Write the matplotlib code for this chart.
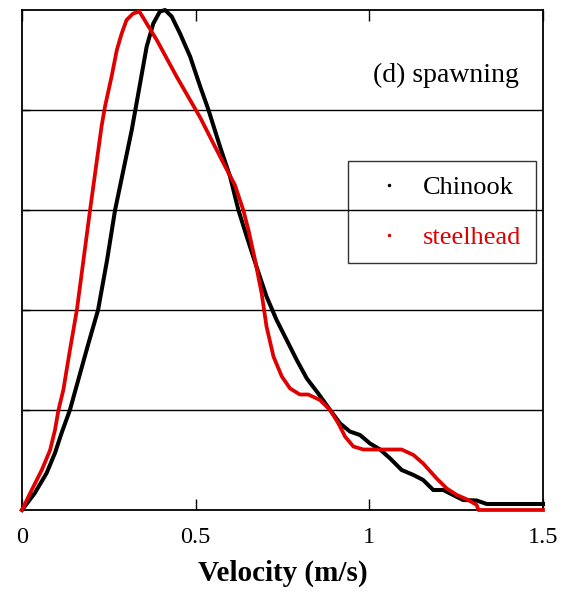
import numpy as np
import matplotlib
matplotlib.use('Agg')
import matplotlib.pyplot as plt
from matplotlib.lines import Line2D

plt.rcParams['font.family'] = ['Liberation Serif', 'DejaVu Serif']

#%% Data (velocity in m/s, relative frequency)
chinook_v = [0, 0.037, 0.071, 0.095, 0.114, 0.138, 0.162, 0.19, 0.219, 0.245,
             0.268, 0.292, 0.316, 0.34, 0.359, 0.378, 0.397, 0.412, 0.431, 0.455,
             0.484, 0.513, 0.537, 0.57, 0.599, 0.623, 0.647, 0.676, 0.704, 0.733,
             0.762, 0.791, 0.82, 0.853, 0.887, 0.916, 0.944, 0.973, 1.002, 1.031,
             1.06, 1.093, 1.127, 1.155, 1.184, 1.213, 1.241, 1.27, 1.309, 1.338,
             1.5]
chinook_f = [0, 0.034, 0.074, 0.114, 0.154, 0.2, 0.26, 0.33, 0.4, 0.5,
             0.6, 0.68, 0.76, 0.853, 0.927, 0.973, 0.997, 1.0, 0.987, 0.953,
             0.907, 0.847, 0.8, 0.727, 0.667, 0.6, 0.547, 0.485, 0.427, 0.38,
             0.34, 0.3, 0.263, 0.233, 0.2, 0.173, 0.157, 0.15, 0.133, 0.121,
             0.103, 0.08, 0.07, 0.06, 0.04, 0.04, 0.03, 0.02, 0.019, 0.012,
             0.012]

steel_v = [0, 0.028, 0.057, 0.081, 0.095, 0.105, 0.119, 0.138, 0.158, 0.177,
           0.196, 0.229, 0.239, 0.258, 0.273, 0.287, 0.301, 0.32, 0.338, 0.359,
           0.388, 0.445, 0.513, 0.551, 0.585, 0.613, 0.637, 0.652, 0.671, 0.69,
           0.704, 0.724, 0.748, 0.772, 0.8, 0.824, 0.858, 0.887, 0.911, 0.93,
           0.954, 0.983, 1.031, 1.093, 1.127, 1.155, 1.194, 1.223, 1.252, 1.285,
           1.309, 1.314, 1.5]
steel_f = [0, 0.04, 0.08, 0.12, 0.16, 0.2, 0.24, 0.32, 0.4, 0.5,
           0.6, 0.767, 0.807, 0.867, 0.92, 0.953, 0.98, 0.993, 0.997, 0.973,
           0.94, 0.867, 0.785, 0.733, 0.687, 0.65, 0.6, 0.56, 0.5, 0.433,
           0.367, 0.307, 0.267, 0.243, 0.231, 0.231, 0.22, 0.2, 0.173, 0.147,
           0.127, 0.121, 0.121, 0.121, 0.11, 0.093, 0.063, 0.043, 0.03, 0.02,
           0.01, 0, 0]

xticks = [0, 0.5, 1, 1.5]
xticklabels = ['0', '0.5', '1', '1.5']
gridlines = [0.2, 0.4, 0.6, 0.8]

red = '#e00000'

#%% Plot
fig = plt.figure(figsize=(5.71, 5.96), dpi=100)
ax = fig.add_axes([0.0385, 0.1443, 0.9125, 0.8389])

for g in gridlines:
    ax.axhline(g, color='black', lw=1.0, zorder=1)

ax.plot(chinook_v, chinook_f, color='black', lw=2.9, zorder=3,
        solid_joinstyle='round', clip_on=False)
ax.plot(steel_v, steel_f, color=red, lw=2.7, zorder=4,
        solid_joinstyle='round', clip_on=False)

ax.set_xlim(0, 1.5)
ax.set_ylim(0, 1)
ax.set_xticks(xticks)
ax.set_xticklabels(xticklabels, fontsize=17.5)
ax.set_yticks(gridlines)
ax.set_yticklabels([])
ax.tick_params(axis='x', direction='in', length=8, width=1, pad=12, top=True)
ax.tick_params(axis='y', direction='in', length=6, width=1)
for s in ax.spines.values():
    s.set_linewidth(1.3)

ax.set_xlabel('Velocity (m/s)', fontsize=21, fontweight='bold', labelpad=9)

ax.text(0.954, 0.87, '(d) spawning', transform=ax.transAxes,
        ha='right', va='center', fontsize=20)

handles = [Line2D([], [], color='black', marker='.', markersize=3, linestyle='none'),
           Line2D([], [], color=red, marker='.', markersize=3, linestyle='none')]
leg = ax.legend(handles, ['Chinook', 'steelhead'], loc='upper right',
                bbox_to_anchor=(0.987, 0.698), fontsize=19, frameon=True,
                fancybox=False, facecolor='none', edgecolor='black',
                handlelength=2.0, handletextpad=0.3, borderpad=0.55,
                labelspacing=1.0, borderaxespad=0)
leg.get_frame().set_linewidth(1.0)
for t, c in zip(leg.get_texts(), ['black', red]):
    t.set_color(c)

fig.savefig('out.png', dpi=100)
